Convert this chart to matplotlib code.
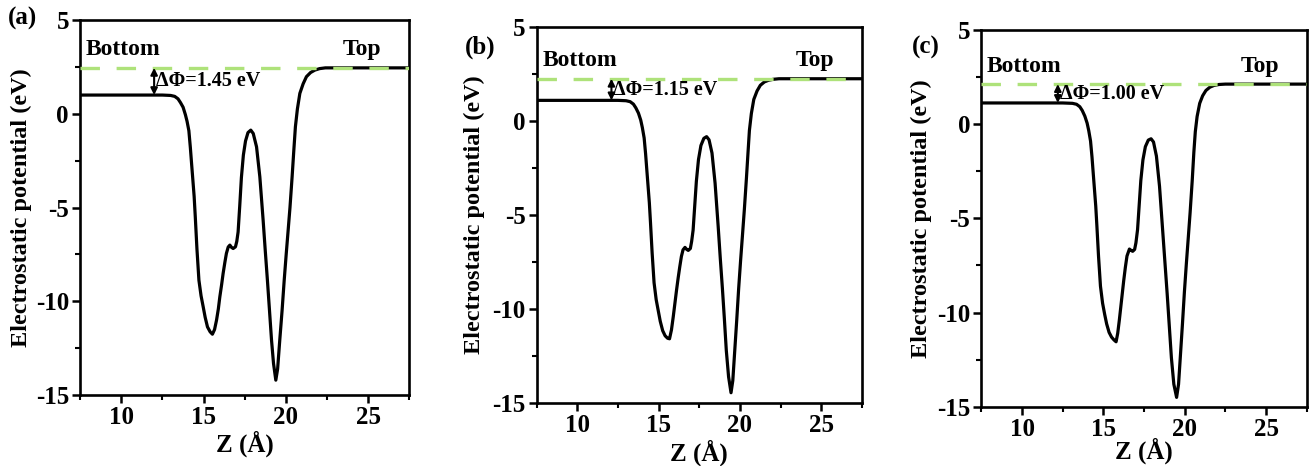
import numpy as np
import matplotlib
matplotlib.use('Agg')
import matplotlib.pyplot as plt
from matplotlib.ticker import MultipleLocator

plt.rcParams['font.family'] = ['Liberation Serif', 'DejaVu Serif']
plt.rcParams['font.weight'] = 'bold'
plt.rcParams['axes.unicode_minus'] = False
plt.rcParams['lines.scale_dashes'] = False

# 데이터
z_a = [7.5, 10.0, 12.5, 13.0, 13.25, 13.45, 13.6, 13.76, 13.9, 14.0, 14.11, 14.2, 14.27, 14.35,
       14.43, 14.5, 14.6, 14.72, 14.85, 14.98, 15.1, 15.24, 15.4, 15.54, 15.67, 15.79, 15.9,
       15.99, 16.1, 16.19, 16.3, 16.39, 16.5, 16.6, 16.7, 16.8, 16.94, 17.02, 17.1, 17.2, 17.3,
       17.42, 17.55, 17.7, 17.87, 18.02, 18.22, 18.42, 18.62, 18.75, 18.88, 19.0, 19.13, 19.25,
       19.39, 19.5, 19.63, 19.77, 19.9, 20.02, 20.14, 20.25, 20.38, 20.48, 20.58, 20.7, 20.85,
       21.05, 21.25, 21.5, 21.76, 22.05, 22.4, 27.5]
v_a = [1.0, 1.0, 1.0, 0.98, 0.93, 0.8, 0.6, 0.35, -0.05, -0.4, -0.9, -1.8, -2.6, -3.5,
       -4.4, -5.5, -7.2, -8.87, -9.7, -10.29, -10.85, -11.36, -11.62, -11.75, -11.5, -11.0, -10.4,
       -9.76, -9.1, -8.51, -7.9, -7.44, -7.1, -7.0, -7.12, -7.18, -7.09, -6.8, -6.3, -4.9, -3.4,
       -2.2, -1.45, -1.0, -0.87, -1.05, -1.76, -3.36, -5.67, -7.3, -8.87, -10.4, -12.07, -13.3,
       -14.2, -13.6, -12.07, -10.5, -8.87, -7.5, -6.2, -5.0, -3.36, -2.0, -0.69, 0.25, 1.09,
       1.6, 1.98, 2.2, 2.33, 2.41, 2.45, 2.45]

z_b = [7.5, 10.0, 12.5, 13.0, 13.25, 13.45, 13.6, 13.76, 13.9, 14.0, 14.11, 14.2, 14.27, 14.35,
       14.43, 14.5, 14.6, 14.72, 14.85, 14.98, 15.1, 15.25, 15.4, 15.55, 15.67, 15.79, 15.9,
       16.0, 16.1, 16.2, 16.3, 16.4, 16.5, 16.62, 16.72, 16.82, 16.95, 17.03, 17.12, 17.22, 17.32,
       17.45, 17.6, 17.78, 17.95, 18.1, 18.28, 18.47, 18.66, 18.79, 18.92, 19.04, 19.16, 19.3,
       19.45, 19.56, 19.68, 19.8, 19.92, 20.04, 20.16, 20.27, 20.4, 20.5, 20.58, 20.7, 20.85,
       21.05, 21.25, 21.5, 21.76, 22.05, 22.4, 27.5]
v_b = [1.1, 1.1, 1.1, 1.08, 1.03, 0.9, 0.7, 0.42, 0.05, -0.35, -0.9, -1.75, -2.55, -3.45,
       -4.35, -5.4, -7.0, -8.6, -9.5, -10.1, -10.65, -11.15, -11.42, -11.55, -11.58, -11.1, -10.4,
       -9.7, -9.0, -8.35, -7.75, -7.2, -6.85, -6.72, -6.82, -6.88, -6.78, -6.4, -5.8, -4.5, -3.2,
       -2.05, -1.3, -0.92, -0.83, -1.0, -1.7, -3.3, -5.6, -7.3, -8.9, -10.5, -12.2, -13.6,
       -14.45, -13.8, -12.2, -10.6, -8.9, -7.4, -6.0, -4.7, -3.0, -1.6, -0.5, 0.4, 1.15,
       1.6, 1.9, 2.08, 2.17, 2.22, 2.25, 2.25]

z_c = [7.5, 10.0, 12.5, 13.1, 13.35, 13.55, 13.7, 13.86, 14.0, 14.1, 14.21, 14.3, 14.37, 14.45,
       14.53, 14.6, 14.7, 14.82, 14.95, 15.08, 15.2, 15.35, 15.5, 15.65, 15.78, 15.88, 15.98,
       16.07, 16.16, 16.25, 16.35, 16.45, 16.6, 16.7, 16.8, 16.92, 17.0, 17.1, 17.2, 17.3,
       17.43, 17.58, 17.76, 17.93, 18.08, 18.26, 18.45, 18.64, 18.78, 18.92, 19.05, 19.18, 19.33,
       19.5, 19.62, 19.74, 19.86, 19.98, 20.1, 20.22, 20.33, 20.46, 20.56, 20.65, 20.76, 20.92,
       21.1, 21.3, 21.55, 21.8, 22.1, 22.5, 27.5]
v_c = [1.12, 1.12, 1.12, 1.1, 1.05, 0.92, 0.72, 0.42, 0.05, -0.35, -0.9, -1.75, -2.55, -3.45,
       -4.35, -5.4, -7.0, -8.6, -9.5, -10.1, -10.6, -11.05, -11.3, -11.45, -11.55, -11.1, -10.4,
       -9.7, -9.0, -8.3, -7.6, -7.0, -6.63, -6.7, -6.75, -6.65, -6.3, -5.6, -4.3, -3.0,
       -1.9, -1.2, -0.85, -0.78, -0.95, -1.7, -3.3, -5.6, -7.3, -9.0, -10.7, -12.4, -13.8,
       -14.5, -13.8, -12.2, -10.6, -8.9, -7.4, -6.0, -4.7, -3.0, -1.5, -0.4, 0.4, 1.1,
       1.5, 1.78, 1.96, 2.05, 2.1, 2.12, 2.12]

bottom_level = [1.0, 1.1, 1.12]
top_level = [2.45, 2.25, 2.12]
dphi_labels = ['ΔΦ=1.45 eV', 'ΔΦ=1.15 eV', 'ΔΦ=1.00 eV']
panel_labels = ['(a)', '(b)', '(c)']
arrow_x = [12.0, 12.1, 12.2]

z_list = [z_a, z_b, z_c]
v_list = [v_a, v_b, v_c]

positions = [[0.061, 0.152, 0.251, 0.805],
             [0.409, 0.135, 0.248, 0.807],
             [0.748, 0.127, 0.248, 0.809]]
label_pos = [(0.006, 0.961), (0.354, 0.899), (0.695, 0.899)]
ylab_x = [-0.146, -0.16, -0.151]
xlab_y = [-0.093, -0.098, -0.082]

fig = plt.figure(figsize=(13.12, 4.66), dpi=100)

for i in range(3):
    ax = fig.add_axes(positions[i])
    ax.plot(z_list[i], v_list[i], color='black', lw=2.3, zorder=2,
            solid_joinstyle='round')
    ax.plot([7.5, 27.5], [top_level[i], top_level[i]], color='#aee27a', lw=2.4,
            dashes=(14, 12), zorder=3)
    ax.annotate('', xy=(arrow_x[i], top_level[i]), xytext=(arrow_x[i], bottom_level[i]),
                arrowprops=dict(arrowstyle='<|-|>,head_length=0.4,head_width=0.2',
                                color='black', lw=1.5, shrinkA=0, shrinkB=0))
    ax.text(arrow_x[i] + 0.12, (top_level[i] + bottom_level[i]) / 2, dphi_labels[i],
            fontsize=14.5, fontweight='bold', va='center', ha='left')
    ax.text(7.85, top_level[i] + 0.4, 'Bottom', fontsize=17, fontweight='bold', va='bottom')
    ax.text(23.45, top_level[i] + 0.4, 'Top', fontsize=17, fontweight='bold', va='bottom')

    ax.set_xlim(7.5, 27.5)
    ax.set_ylim(-15, 5)
    ax.xaxis.set_major_locator(MultipleLocator(5))
    ax.xaxis.set_minor_locator(MultipleLocator(2.5))
    ax.yaxis.set_major_locator(MultipleLocator(5))
    ax.yaxis.set_minor_locator(MultipleLocator(2.5))
    ax.tick_params(which='major', direction='out', length=6, width=1.8, labelsize=18, pad=2)
    ax.tick_params(which='minor', direction='out', length=3.5, width=1.5)
    for s in ax.spines.values():
        s.set_linewidth(1.9)

    ax.set_xlabel('Z (Å)', fontsize=18, fontweight='bold')
    ax.set_ylabel('Electrostatic potential (eV)', fontsize=17.5, fontweight='bold')
    ax.yaxis.set_label_coords(ylab_x[i], 0.5)
    ax.xaxis.set_label_coords(0.5, xlab_y[i])

    fig.text(label_pos[i][0], label_pos[i][1], panel_labels[i], fontsize=18,
             fontweight='bold', va='center', ha='left')

plt.savefig('out.png', dpi=100)
